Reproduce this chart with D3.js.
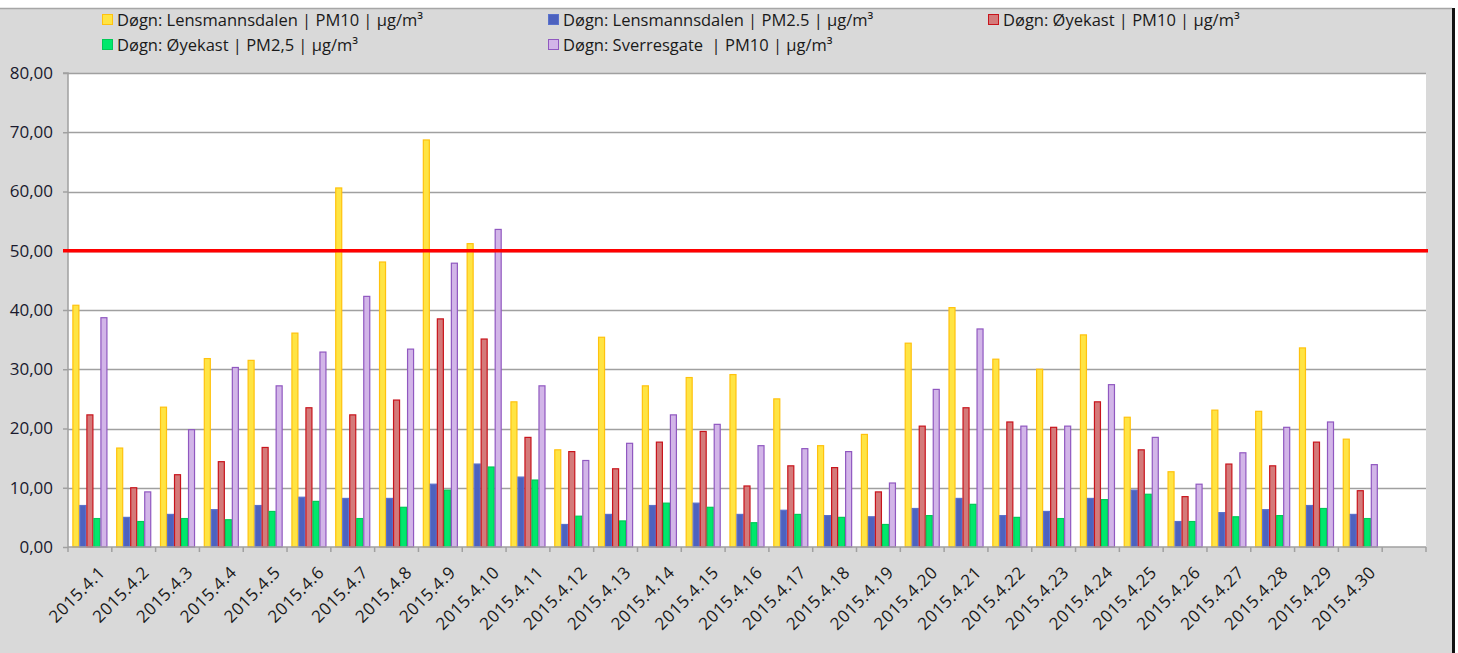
<!DOCTYPE html>
<html>
<head>
<meta charset="utf-8">
<script src="https://cdn.jsdelivr.net/npm/d3@7"></script>
<style>
  html, body { margin: 0; padding: 0; background: #fff; }
  svg { display: block; font-family: "Open Sans", "DejaVu Sans", sans-serif; }
</style>
</head>
<body>
<svg id="chart" width="1458" height="653"></svg>
<script>
// categories (last slot is an empty category, like the original sheet)
const days = ["2015.4.1","2015.4.2","2015.4.3","2015.4.4","2015.4.5","2015.4.6","2015.4.7","2015.4.8","2015.4.9","2015.4.10",
  "2015.4.11","2015.4.12","2015.4.13","2015.4.14","2015.4.15","2015.4.16","2015.4.17","2015.4.18","2015.4.19","2015.4.20",
  "2015.4.21","2015.4.22","2015.4.23","2015.4.24","2015.4.25","2015.4.26","2015.4.27","2015.4.28","2015.4.29","2015.4.30"];
const slots = days.concat([""]);

// series values
const lensPM10 = [40.8,16.7,23.6,31.8,31.5,36.1,60.6,48.1,68.7,51.2,24.5,16.4,35.4,27.2,28.6,29.1,25.0,17.1,19.0,34.4,
  40.4,31.7,30.0,35.8,21.9,12.7,23.1,22.9,33.6,18.2];
const lensPM25 = [7.0,5.0,5.5,6.3,7.0,8.4,8.2,8.2,10.6,14.0,11.8,3.8,5.5,7.0,7.4,5.5,6.2,5.3,5.1,6.5,
  8.2,5.3,6.0,8.2,9.6,4.3,5.8,6.3,7.0,5.5];
const oyePM10 = [22.3,10.0,12.2,14.4,16.8,23.5,22.3,24.8,38.5,35.1,18.5,16.1,13.2,17.7,19.5,10.3,13.7,13.4,9.3,20.4,
  23.5,21.1,20.2,24.5,16.4,8.5,14.0,13.7,17.7,9.5];
const oyePM25 = [4.8,4.3,4.8,4.6,6.0,7.7,4.8,6.7,9.6,13.5,11.3,5.2,4.4,7.4,6.7,4.1,5.5,5.0,3.8,5.3,
  7.2,5.0,4.8,8.0,8.9,4.3,5.1,5.3,6.5,4.8];
const sverrePM10 = [38.7,9.3,19.8,30.3,27.2,32.9,42.3,33.4,47.9,53.6,27.2,14.6,17.5,22.3,20.7,17.1,16.6,16.1,10.8,26.6,
  36.8,20.4,20.4,27.4,18.5,10.6,15.9,20.2,21.1,13.9];

const seriesNames = [
  "Døgn: Lensmannsdalen | PM10 | µg/m³",
  "Døgn: Lensmannsdalen | PM2.5 | µg/m³",
  "Døgn: Øyekast | PM10 | µg/m³",
  "Døgn: Øyekast | PM2,5 | µg/m³",
  "Døgn: Sverresgate  | PM10 | µg/m³"
];
const yTicks = [0, 10, 20, 30, 40, 50, 60, 70, 80];
const limitValue = 50;

const seriesValues = [lensPM10, lensPM25, oyePM10, oyePM25, sverrePM10];
const fills = ["#ffe443", "#4d62bf", "#d47a7a", "#00e86c", "#d2b5e8"];
const strokes = ["#ffc20e", "#5a72cc", "#c8141c", "#00c957", "#9058c0"];

const svg = d3.select("#chart");
const W = 1458, H = 653;
const plot = { left: 68, right: 1426, top: 73, bottom: 547 };

// outer frame
svg.append("rect").attr("x", 0).attr("y", 8).attr("width", 1452).attr("height", H - 8)
  .attr("fill", "#d9d9d9");
svg.append("line").attr("x1", 0).attr("x2", 1452).attr("y1", 8.5).attr("y2", 8.5)
  .attr("stroke", "#a6a6a6").attr("stroke-width", 1.5);
svg.append("line").attr("x1", 1453.5).attr("x2", 1453.5).attr("y1", 8).attr("y2", H)
  .attr("stroke", "#111").attr("stroke-width", 3);

// plot background
svg.append("rect").attr("x", plot.left).attr("y", plot.top)
  .attr("width", plot.right - plot.left).attr("height", plot.bottom - plot.top)
  .attr("fill", "#fff");

const x = d3.scaleBand().domain(d3.range(slots.length))
  .range([plot.left, plot.right]).paddingInner(0).paddingOuter(0);
const y = d3.scaleLinear().domain([0, 80]).range([plot.bottom, plot.top]);

// gridlines
svg.append("g").selectAll("line").data(yTicks.filter(d => d > 0)).join("line")
  .attr("x1", plot.left).attr("x2", plot.right)
  .attr("y1", d => Math.round(y(d)) + 0.5).attr("y2", d => Math.round(y(d)) + 0.5)
  .attr("stroke", "#a0a0a0").attr("stroke-width", 1.5);

// bars: 5 per category, Excel-like gap width 125%
const bw = x.bandwidth() / (seriesValues.length + 1.25);
const inner = d3.scaleBand().domain(d3.range(seriesValues.length))
  .range([bw * 0.625, bw * 0.625 + bw * seriesValues.length]);

const groups = svg.append("g").selectAll("g").data(days).join("g")
  .attr("transform", (d, i) => `translate(${x(i)},0)`);
groups.selectAll("rect")
  .data((d, i) => seriesValues.map((s, k) => ({ k, v: s[i] })))
  .join("rect")
  .attr("x", d => inner(d.k) + 0.5)
  .attr("width", bw - 1)
  .attr("y", d => y(d.v))
  .attr("height", d => y(0) - y(d.v))
  .attr("fill", d => fills[d.k])
  .attr("stroke", d => strokes[d.k])
  .attr("stroke-width", 1.2);

// axes
const yAxis = d3.axisLeft(y).tickValues(yTicks).tickSize(5)
  .tickFormat(d => d3.format(".2f")(d).replace(".", ","));
const gy = svg.append("g").attr("transform", `translate(${plot.left},0)`).call(yAxis);
gy.select(".domain").attr("stroke", "#a0a0a0").attr("stroke-width", 1.5).attr("d", `M-5,${plot.top}H0V${plot.bottom}`);
gy.selectAll(".tick line").attr("stroke", "#a0a0a0").attr("stroke-width", 1.5);
gy.selectAll(".tick text").attr("x", -15).attr("fill", "#1a1a2e")
  .style("font-size", "17px").style("font-family", "'Open Sans', sans-serif");

const gx = svg.append("g").attr("transform", `translate(0,${plot.bottom})`);
gx.append("line").attr("x1", plot.left).attr("x2", plot.right).attr("y1", 0).attr("y2", 0)
  .attr("stroke", "#a0a0a0").attr("stroke-width", 1.5);
gx.selectAll("line.tk").data(d3.range(slots.length + 1)).join("line").attr("class", "tk")
  .attr("x1", i => plot.left + i * x.step()).attr("x2", i => plot.left + i * x.step())
  .attr("y1", 0).attr("y2", 5).attr("stroke", "#a0a0a0").attr("stroke-width", 1.5);
gx.selectAll("text").data(days).join("text")
  .attr("transform", (d, i) => `translate(${x(i) + x.bandwidth() / 2 + 8},${18}) rotate(-45)`)
  .attr("text-anchor", "end").attr("dy", "0.7em")
  .attr("fill", "#1a1a1a").style("font-size", "17px").style("letter-spacing", "0.5px")
  .text(d => d);

// limit line at 50
svg.append("line").attr("x1", 63).attr("x2", plot.right + 2)
  .attr("y1", y(limitValue)).attr("y2", y(limitValue))
  .attr("stroke", "#ff0000").attr("stroke-width", 3.5);

// legend
const legendPos = [[102, 20], [548, 20], [988, 20], [102, 45], [548, 45]];
const lg = svg.append("g").selectAll("g").data(seriesNames).join("g")
  .attr("transform", (d, i) => `translate(${legendPos[i][0]},${legendPos[i][1]})`);
lg.append("rect").attr("x", 0.5).attr("y", -5.5).attr("width", 10).attr("height", 10)
  .attr("fill", (d, i) => fills[i]).attr("stroke", (d, i) => strokes[i]);
lg.append("text").attr("x", 15).attr("y", 0).attr("dy", "0.36em")
  .attr("fill", "#1a1a1a").style("font-size", "16.5px").style("white-space", "pre")
  .text(d => d);
</script>
</body>
</html>
